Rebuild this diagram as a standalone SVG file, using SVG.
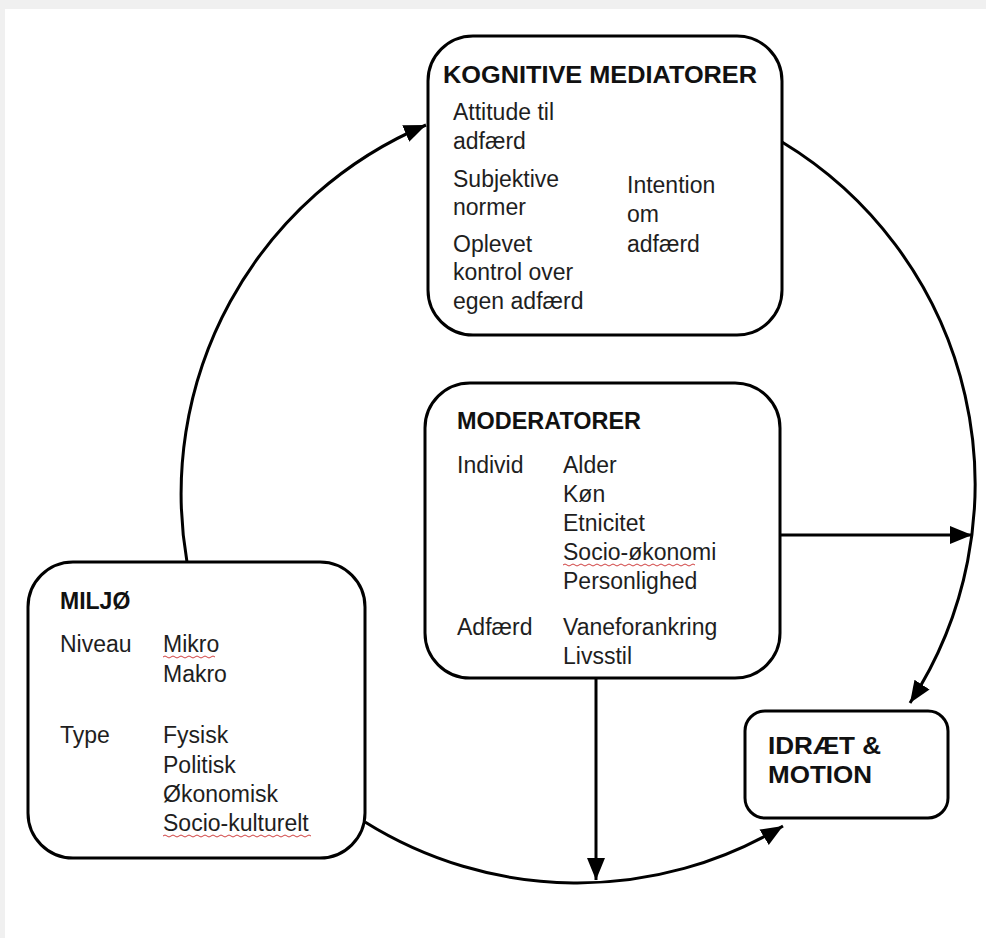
<svg xmlns="http://www.w3.org/2000/svg" width="986" height="938" viewBox="0 0 986 938">
<defs>
<style>
.box{fill:#fff;stroke:#000;stroke-width:3}
.t{font-family:"Liberation Sans",Arial,sans-serif;font-size:23px;fill:#1e1e1e}
.h{font-family:"Liberation Sans",Arial,sans-serif;font-size:23px;font-weight:bold;fill:#111}
.c{fill:none;stroke:#000;stroke-width:3}
.sq{fill:none;stroke:#d04040;stroke-width:1}
</style>
<marker id="ah" markerUnits="userSpaceOnUse" markerWidth="24" markerHeight="20" viewBox="0 0 24 20" refX="22" refY="10" orient="auto">
<path d="M0,1 L22,10 L0,19 Z" fill="#000"/>
</marker>
</defs>
<rect x="0" y="0" width="986" height="938" fill="#f0f0f0"/>
<rect x="5" y="9" width="981" height="929" fill="#fff"/>

<g id="connectors">
<path class="c" d="M187,562 A400,400 0 0 1 426,125" marker-end="url(#ah)"/>
<path class="c" d="M782,142 A400,400 0 0 1 910,703" marker-end="url(#ah)"/>
<path class="c" d="M365,822 A400,400 0 0 0 783,826" marker-end="url(#ah)"/>
<path class="c" d="M780,535 L972,535" marker-end="url(#ah)"/>
<path class="c" d="M596,678 L596,880" marker-end="url(#ah)"/>
</g>

<g id="kognitive">
<rect class="box" x="428" y="36" width="354" height="299" rx="45" ry="45"/>
<text class="h" x="443" y="83" font-size="24" textLength="314" lengthAdjust="spacingAndGlyphs">KOGNITIVE MEDIATORER</text>
<text class="t" x="453" y="120">Attitude til</text>
<text class="t" x="453" y="149">adfærd</text>
<text class="t" x="453" y="187">Subjektive</text>
<text class="t" x="453" y="215">normer</text>
<text class="t" x="453" y="252">Oplevet</text>
<text class="t" x="453" y="280">kontrol over</text>
<text class="t" x="453" y="309">egen adfærd</text>
<text class="t" x="627" y="193">Intention</text>
<text class="t" x="627" y="222">om</text>
<text class="t" x="627" y="252">adfærd</text>
</g>

<g id="moderatorer">
<rect class="box" x="425" y="383" width="355" height="295" rx="45" ry="45"/>
<text class="h" x="457" y="429" textLength="184" lengthAdjust="spacingAndGlyphs">MODERATORER</text>
<text class="t" x="457" y="473">Individ</text>
<text class="t" x="563" y="473">Alder</text>
<text class="t" x="563" y="502">Køn</text>
<text class="t" x="563" y="531">Etnicitet</text>
<text class="t" x="563" y="560">Socio-økonomi</text>
<path class="sq" d="M563,565 q2,-2 4,0 t4,0 t4,0 t4,0 t4,0 t4,0 t4,0 t4,0 t4,0 t4,0 t4,0 t4,0 t4,0 t4,0 t4,0 t4,0 t4,0 t4,0 t4,0 t4,0 t4,0 t4,0 t4,0 t4,0 t4,0 t4,0 t4,0 t4,0 t4,0 t4,0 t4,0 t4,0 t4,0"/>
<text class="t" x="563" y="589">Personlighed</text>
<text class="t" x="457" y="635">Adfærd</text>
<text class="t" x="563" y="635">Vaneforankring</text>
<text class="t" x="563" y="664">Livsstil</text>
</g>

<g id="miljo">
<rect class="box" x="28" y="562" width="337" height="296" rx="45" ry="45"/>
<text class="h" x="60" y="609">MILJØ</text>
<text class="t" x="60" y="652">Niveau</text>
<text class="t" x="163" y="652">Mikro</text>
<path class="sq" d="M163,657 q2,-2 4,0 t4,0 t4,0 t4,0 t4,0 t4,0 t4,0 t4,0 t4,0 t4,0 t4,0 t4,0 t4,0"/>
<text class="t" x="163" y="682">Makro</text>
<text class="t" x="60" y="743">Type</text>
<text class="t" x="163" y="743">Fysisk</text>
<text class="t" x="163" y="773">Politisk</text>
<text class="t" x="163" y="802">Økonomisk</text>
<text class="t" x="163" y="831">Socio-kulturelt</text>
<path class="sq" d="M163,836 q2,-2 4,0 t4,0 t4,0 t4,0 t4,0 t4,0 t4,0 t4,0 t4,0 t4,0 t4,0 t4,0 t4,0 t4,0 t4,0 t4,0 t4,0 t4,0 t4,0 t4,0 t4,0 t4,0 t4,0 t4,0 t4,0 t4,0 t4,0 t4,0 t4,0 t4,0 t4,0 t4,0 t4,0 t4,0 t4,0 t4,0 t4,0"/>
</g>

<g id="idraet">
<rect class="box" x="745" y="711" width="203" height="107" rx="20" ry="20"/>
<text class="h" x="768" y="754" font-size="26" textLength="113" lengthAdjust="spacingAndGlyphs">IDRÆT &amp;</text>
<text class="h" x="768" y="783" font-size="26" textLength="104" lengthAdjust="spacingAndGlyphs">MOTION</text>
</g>
</svg>
